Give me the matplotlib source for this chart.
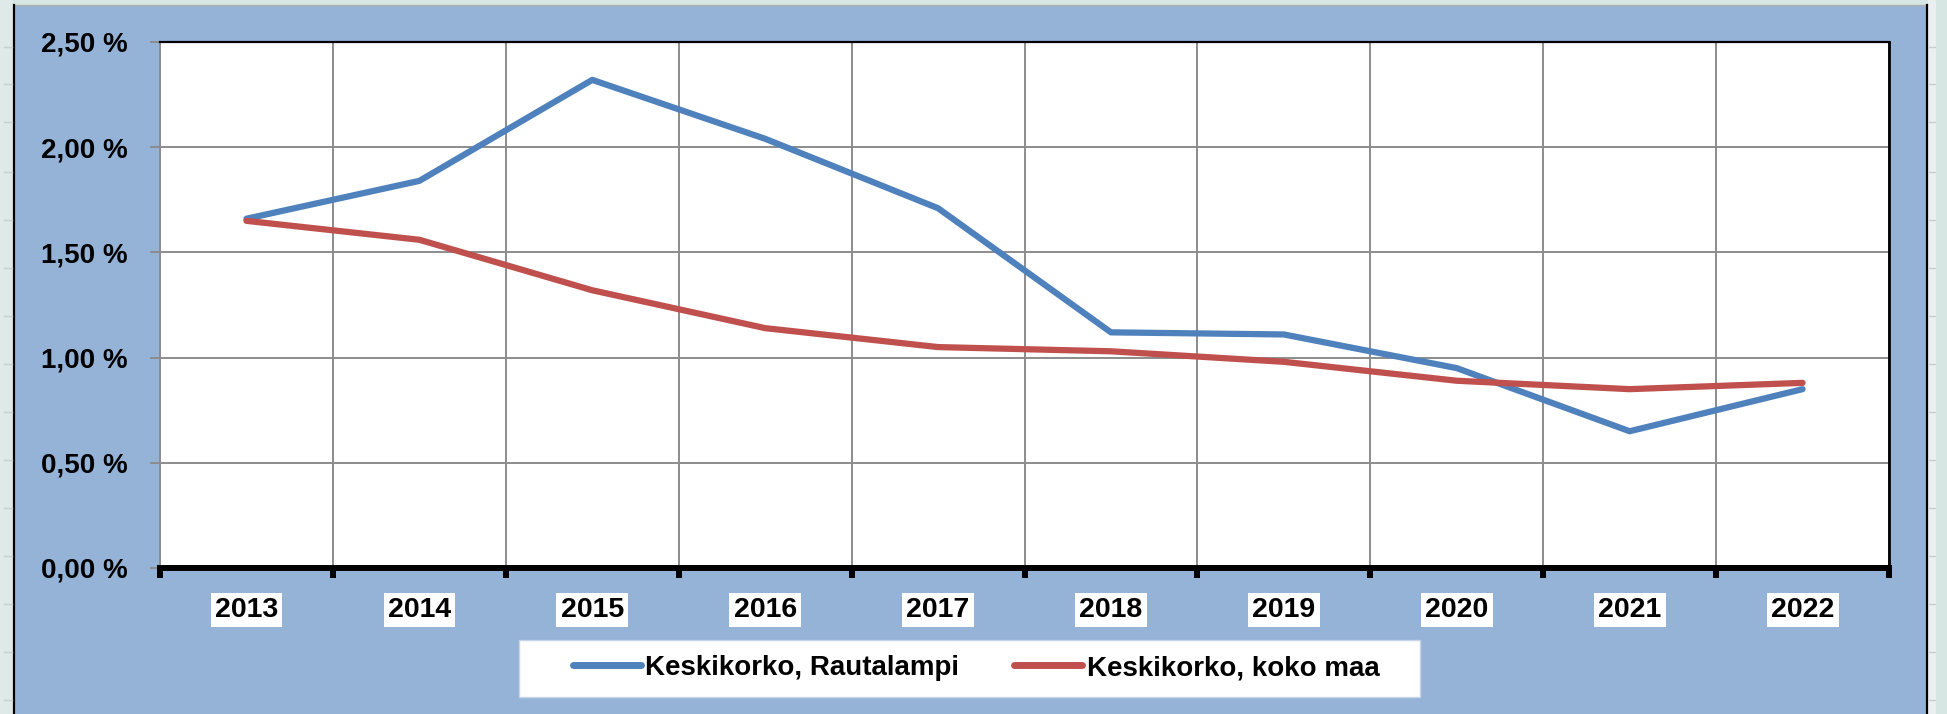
import matplotlib.pyplot as plt
from matplotlib.patches import Rectangle
from matplotlib.lines import Line2D
from matplotlib.ticker import FuncFormatter

plt.rcParams['font.family'] = ['Liberation Sans', 'DejaVu Sans']
plt.rcParams['font.weight'] = 'bold'

# data
years = ["2013", "2014", "2015", "2016", "2017", "2018", "2019", "2020", "2021", "2022"]
rautalampi = [1.66, 1.84, 2.32, 2.04, 1.71, 1.12, 1.11, 0.95, 0.65, 0.85]
koko_maa = [1.65, 1.56, 1.32, 1.14, 1.05, 1.03, 0.98, 0.89, 0.85, 0.88]
labels = ["Keskikorko, Rautalampi", "Keskikorko, koko maa"]

blue = "#4f81bd"
red = "#c0504d"
panel = "#95b3d7"
W, H = 1947, 714

fig = plt.figure(figsize=(W / 100, H / 100), dpi=100, facecolor="#d5e6e3")

# spreadsheet-ish surroundings + blue chart panel
fig.patches.append(Rectangle((0, 0), 13 / W, 1, transform=fig.transFigure,
                             facecolor="#dfe9e8", edgecolor="none", zorder=-2))
fig.patches.append(Rectangle((1928 / W, 0), 8 / W, 1, transform=fig.transFigure,
                             facecolor="#ebefef", edgecolor="none", zorder=-2))
fig.patches.append(Rectangle((14 / W, 0), (1927 - 14) / W, (H - 5) / H,
                             transform=fig.transFigure, facecolor=panel,
                             edgecolor="none", zorder=-1))
fig.add_artist(Line2D([14 / W, 1927 / W], [(H - 5) / H, (H - 5) / H],
                      transform=fig.transFigure, color="#b0b0b0", lw=1, zorder=-0.5))
fig.add_artist(Line2D([14 / W, 14 / W], [0, (H - 5) / H],
                      transform=fig.transFigure, color="black", lw=1.6, zorder=-0.5))
fig.add_artist(Line2D([1927 / W, 1927 / W], [0, (H - 5) / H],
                      transform=fig.transFigure, color="black", lw=1.6, zorder=-0.5))
for yy in [47, 84, 122, 172, 220, 268, 316, 364, 412, 460, 508, 556, 604, 652, 700]:
    fig.add_artist(Line2D([4 / W, 12 / W], [1 - yy / H, 1 - yy / H],
                          transform=fig.transFigure, color="#c8cfcf", lw=1, zorder=-0.5))
    fig.add_artist(Line2D([1929 / W, 1935 / W], [1 - yy / H, 1 - yy / H],
                          transform=fig.transFigure, color="#c8cfcf", lw=1, zorder=-0.5))

ax = fig.add_axes([160 / W, (H - 568) / H, 1729 / W, 526 / H])
ax.set_zorder(2)
ax.set_facecolor("white")

x = [i + 0.5 for i in range(len(years))]
ax.plot(x, rautalampi, color=blue, lw=4.5, solid_joinstyle="round",
        solid_capstyle="round", zorder=3)
ax.plot(x, koko_maa, color=red, lw=4.5, solid_joinstyle="round",
        solid_capstyle="round", zorder=3)

ax.set_xlim(0, len(years))
ax.set_ylim(0, 2.5)
ax.set_yticks([0, 0.5, 1.0, 1.5, 2.0, 2.5])
ax.yaxis.set_major_formatter(FuncFormatter(lambda v, p: f"{v:.2f} %".replace(".", ",")))
ax.set_xticks(range(len(years) + 1))
ax.set_xticklabels([])

ax.grid(True, color="#8c8c8c", lw=1.4)
ax.set_axisbelow(True)

ax.tick_params(axis="y", length=7.2, width=1.4, color="#8c8c8c", pad=16,
               labelsize=20)
ax.tick_params(axis="x", length=7.2, width=4.3, color="black")

ax.spines["top"].set_color("black")
ax.spines["top"].set_linewidth(1.6)
ax.spines["right"].set_color("black")
ax.spines["right"].set_linewidth(2.0)
ax.spines["left"].set_color("#8c8c8c")
ax.spines["left"].set_linewidth(1.4)
ax.spines["bottom"].set_color("black")
ax.spines["bottom"].set_linewidth(4.3)
ax.spines["bottom"].set_zorder(4)

# year labels with white boxes
trans = ax.get_xaxis_transform()
for xi, yr in zip(x, years):
    ax.text(xi, -42 / 526, yr, transform=trans, ha="center", va="center",
            fontsize=20.5, fontweight="bold",
            bbox=dict(boxstyle="square,pad=0.15", facecolor="white", edgecolor="none"))

# legend
fig.patches.append(Rectangle((519 / W, (H - 697) / H), 901 / W, 57 / H,
                             transform=fig.transFigure, facecolor="white",
                             edgecolor="#c6d4e6", lw=1, zorder=1))
handles = [Line2D([], [], color=blue, lw=5, solid_capstyle="round"),
           Line2D([], [], color=red, lw=5, solid_capstyle="round")]
fig.legend(handles, labels, loc="center", bbox_to_anchor=(976 / W, (H - 668) / H),
           ncol=2, frameon=False, fontsize=20, handlelength=2.45,
           handletextpad=0.15, columnspacing=2.0, borderpad=0)

fig.savefig("out.png", dpi=100, facecolor=fig.get_facecolor())
